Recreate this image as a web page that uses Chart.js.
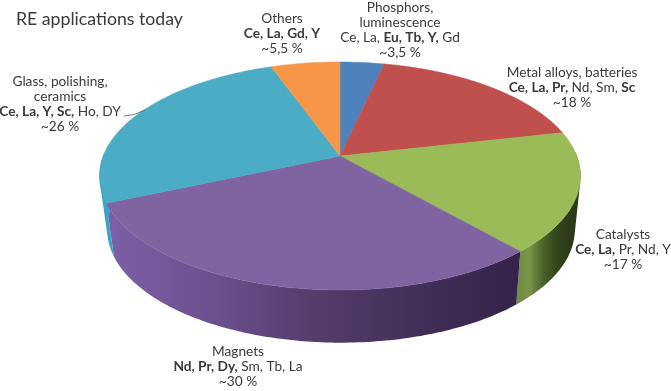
<!DOCTYPE html>
<html>
<head>
<meta charset="utf-8">
<style>
  html, body { margin: 0; padding: 0; background: #fff; }
  canvas { display: block; }
</style>
<script src="https://cdn.jsdelivr.net/npm/chart.js@4/dist/chart.umd.min.js"></script>
</head>
<body>
<canvas id="myChart" width="671" height="391"></canvas>
<script>
const chartTitle = 'RE applications today'
const categories = [['Phosphors,', 'luminescence'], ['Metal alloys, batteries'], ['Catalysts'], ['Magnets'], ['Glass, polishing,', 'ceramics'], ['Others']]
const shares = [3.5, 18, 17, 30, 26, 5.5]
const shareLabels = ['~3,5 %', '~18 %', '~17 %', '~30 %', '~26 %', '~5,5 %']
// * marks the bold part of a line
const elements = ['Ce, La, *Eu, Tb, Y,* Gd', '*Ce, La, Pr,* Nd, Sm, *Sc*', '*Ce, La,* Pr, Nd, Y', '*Nd, Pr, Dy,* Sm, Tb, La', '*Ce, La, Y, Sc,* Ho, DY', '*Ce, La, Gd, Y*']
const sliceColors = ['#4F81BD', '#C0504D', '#9BBB59', '#8064A2', '#4BACC6', '#F79646']

// label centres, x and y of the first line
const labelPlaces = [[400, 8], [572, 73], [623, 235], [238, 352], [60, 82], [282, 19]]
const lineGap = 15

// side wall shades, left to right
const wallStops = [
  ['#3f6a9e', '#3f6a9e'],
  ['#8a3f3c', '#8a3f3c'],
  ['#6c8a42', '#7a9549', '#4d662b', '#34491d', '#2c3b18', '#2a3916'],
  ['#7c60a8', '#6b518f', '#553c6c', '#43305a', '#35224a'],
  ['#35a5ce', '#3f9fc4'],
  ['#c9762f', '#c9762f']
]

// tilted disc seen in perspective
const cx = 340, cy = 156, wide = 236.8, high = 110.5, persp = 0.1754
const wallDepth = 54, wallScaleX = 0.972, wallScaleY = 0.99, wallShiftX = 1

function project (a, bottom) {
  const u = Math.cos(a), v = Math.sin(a)
  const s = 1 / (1 - persp * v)
  const x = wide * u * s, y = high * v * s
  if (bottom) return [cx + wallShiftX + x * wallScaleX, cy + wallDepth + y * wallScaleY]
  return [cx + x, cy + y]
}

// top face of each slice, angles come from the library
Chart.ArcElement.prototype.draw = function (ctx) {
  const steps = Math.ceil((this.endAngle - this.startAngle) * 60)
  ctx.save()
  ctx.beginPath()
  ctx.moveTo(cx, cy)
  for (let i = 0; i <= steps; i++) {
    const p = project(this.startAngle + (this.endAngle - this.startAngle) * i / steps)
    ctx.lineTo(p[0], p[1])
  }
  ctx.closePath()
  ctx.fillStyle = this.options.backgroundColor
  ctx.strokeStyle = this.options.backgroundColor
  ctx.lineWidth = 0.5
  ctx.fill()
  ctx.stroke()
  ctx.restore()
}

function area (q) {
  let sum = 0
  q.forEach((p, i) => {
    const r = q[(i + 1) % q.length]
    sum += p[0] * r[1] - r[0] * p[1]
  })
  return sum
}

const walls = {
  id: 'walls',
  beforeDatasetsDraw (chart) {
    const ctx = chart.ctx
    chart.getDatasetMeta(0).data.forEach((arc, n) => {
      const steps = Math.ceil((arc.endAngle - arc.startAngle) * 60)
      const top = [], low = []
      for (let i = 0; i <= steps; i++) {
        const a = arc.startAngle + (arc.endAngle - arc.startAngle) * i / steps
        // only the part facing the viewer
        if (Math.sin(a) < -0.05) continue
        top.push(project(a))
        low.push(project(a, true))
      }
      if (!top.length) return
      const xs = top.concat(low).map(p => p[0])
      const grad = ctx.createLinearGradient(Math.min(...xs), 0, Math.max(...xs), 0)
      wallStops[n].forEach((c, i) => grad.addColorStop(i / (wallStops[n].length - 1), c))
      // all quads in one path, same winding, so they fill as a union without seams
      ctx.beginPath()
      for (let i = 0; i < top.length - 1; i++) {
        const q = [top[i], top[i + 1], low[i + 1], low[i]]
        if (area(q) < 0) q.reverse()
        q.forEach((p, k) => k ? ctx.lineTo(p[0], p[1]) : ctx.moveTo(p[0], p[1]))
        ctx.closePath()
      }
      ctx.fillStyle = grad
      ctx.fill()
    })
  }
}

function setFont (ctx, bold) {
  ctx.font = (bold ? 'bold ' : '') + '13.7px Lato'
}

function drawRuns (ctx, line, x, y) {
  const runs = line.split('*')
  let total = 0
  runs.forEach((r, i) => {
    setFont(ctx, i % 2 == 1)
    total += ctx.measureText(r).width
  })
  let left = x - total / 2
  runs.forEach((r, i) => {
    setFont(ctx, i % 2 == 1)
    ctx.fillText(r, left, y)
    left += ctx.measureText(r).width
  })
}

const labels = {
  id: 'labels',
  afterDraw (chart) {
    const ctx = chart.ctx
    ctx.save()
    ctx.fillStyle = '#3a3a3c'
    ctx.textBaseline = 'middle'
    ctx.textAlign = 'left'
    ctx.font = '17.7px Lato'
    ctx.fillText(chartTitle, 16, 19)
    categories.forEach((name, n) => {
      const lines = name.concat([elements[n], shareLabels[n]])
      lines.forEach((line, i) => {
        drawRuns(ctx, line, labelPlaces[n][0], labelPlaces[n][1] + i * lineGap)
      })
    })
    // leader of the glass slice
    ctx.beginPath()
    ctx.moveTo(124, 116)
    ctx.quadraticCurveTo(134, 116, 145, 110)
    ctx.strokeStyle = '#55585a'
    ctx.lineWidth = 0.8
    ctx.stroke()
    ctx.restore()
  }
}

const ctx = document.getElementById('myChart')
const myChart = new Chart(ctx, {
  type: 'pie',
  data: {
    labels: categories.map(c => c.join(' ')),
    datasets: [{
      data: shares,
      backgroundColor: sliceColors,
      borderWidth: 0
    }]
  },
  options: {
    responsive: false,
    animation: false,
    plugins: {
      legend: { display: false },
      tooltip: { enabled: false }
    }
  },
  plugins: [walls, labels]
})
</script>
</body>
</html>
